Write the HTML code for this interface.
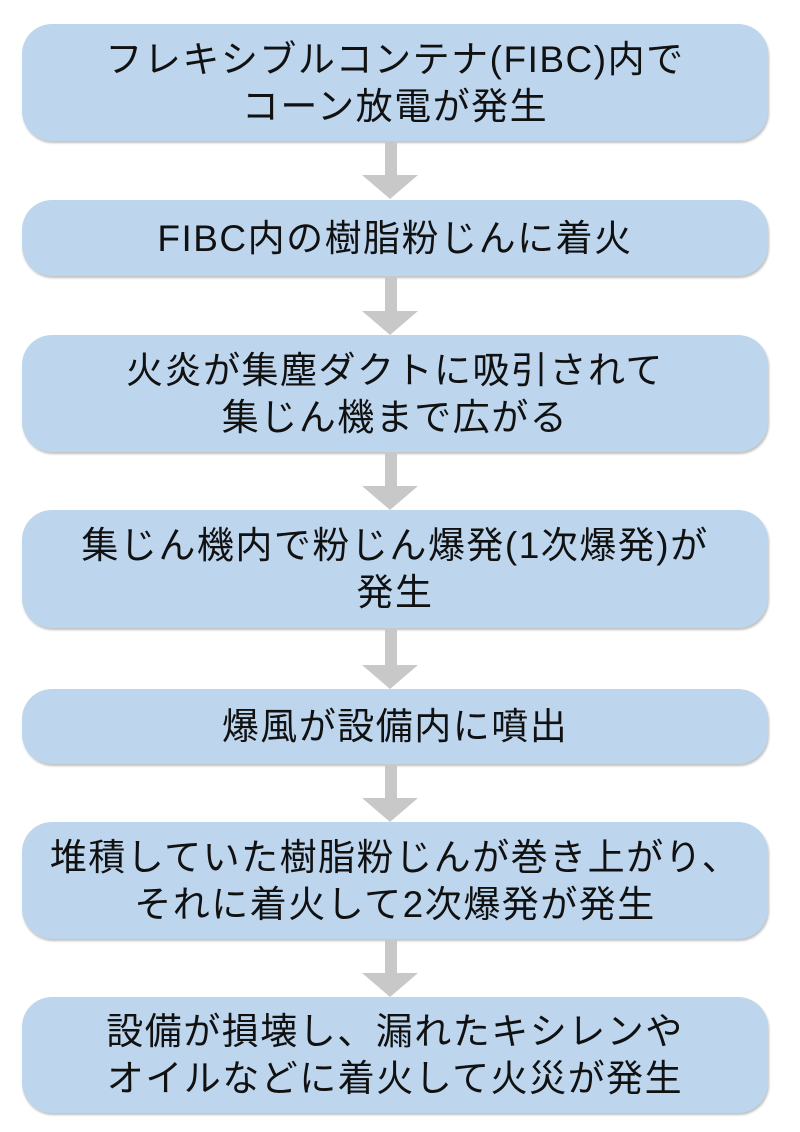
<!DOCTYPE html>
<html><head><meta charset="utf-8"><style>
body{margin:0;width:800px;height:1132px;background:#fff;position:relative;overflow:hidden;font-family:"Liberation Sans","Noto Sans CJK JP",sans-serif;}
.b{position:absolute;left:22px;width:746px;background:#bdd6ee;border-radius:30px;box-shadow:1px 2px 2px rgba(0,0,0,0.25);display:flex;align-items:center;justify-content:center;text-align:center;font-size:37px;line-height:47px;color:#111;letter-spacing:1.5px;}
.s{position:absolute;left:385px;width:12px;background:#c8c8c8;}
.h{position:absolute;left:362px;width:0;height:0;border-left:28px solid transparent;border-right:28px solid transparent;border-top:24px solid #c8c8c8;}
</style></head><body>
<div class="b" style="top:24px;height:117px">フレキシブルコンテナ(FIBC)内で<br>コーン放電が発生</div>
<div class="s" style="top:141px;height:36px"></div><div class="h" style="top:175px"></div>
<div class="b" style="top:200px;height:76px">FIBC内の樹脂粉じんに着火</div>
<div class="s" style="top:276px;height:36px"></div><div class="h" style="top:311px"></div>
<div class="b" style="top:335px;height:117px">火炎が集塵ダクトに吸引されて<br>集じん機まで広がる</div>
<div class="s" style="top:452px;height:35px"></div><div class="h" style="top:486px"></div>
<div class="b" style="top:510px;height:118px">集じん機内で粉じん爆発(1次爆発)が<br>発生</div>
<div class="s" style="top:628px;height:38px"></div><div class="h" style="top:665px"></div>
<div class="b" style="top:689px;height:75px">爆風が設備内に噴出</div>
<div class="s" style="top:764px;height:35px"></div><div class="h" style="top:798px"></div>
<div class="b" style="top:822px;height:117px">堆積していた樹脂粉じんが巻き上がり、<br>それに着火して2次爆発が発生</div>
<div class="s" style="top:939px;height:35px"></div><div class="h" style="top:973px"></div>
<div class="b" style="top:997px;height:116px">設備が損壊し、漏れたキシレンや<br>オイルなどに着火して火災が発生</div>
</body></html>
